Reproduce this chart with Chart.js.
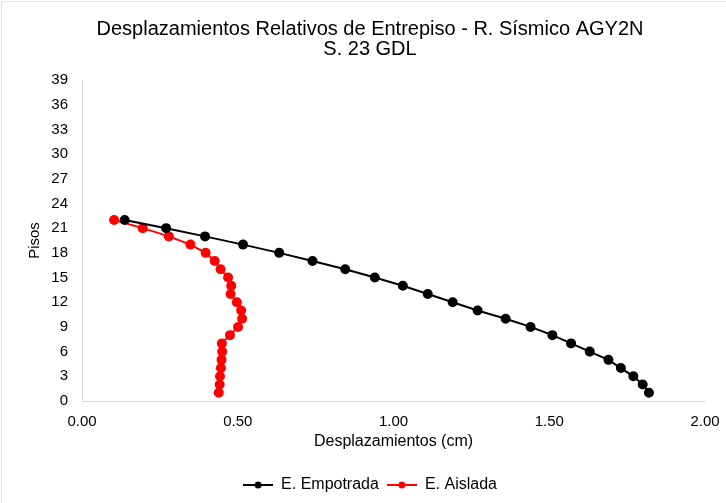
<!DOCTYPE html>
<html>
<head>
<meta charset="utf-8">
<script src="https://cdn.jsdelivr.net/npm/chart.js@4.4.1/dist/chart.umd.min.js"></script>
<style>
  html, body { margin: 0; padding: 0; background: #fff; }
  #wrap { position: relative; width: 726px; height: 503px; }
  #frame { position: absolute; left: 1px; top: 1px; right: 0; bottom: 0; border: 1px solid #dfe3ea; border-right: none; border-bottom: none; pointer-events: none; }
  canvas { display: block; }
</style>
</head>
<body>
<div id="wrap"><canvas id="chart" width="726" height="503"></canvas><div id="frame"></div></div>
<script>
// Desplazamientos relativos de entrepiso por piso (cm)
const pisos = [1, 2, 3, 4, 5, 6, 7, 8, 9, 10, 11, 12, 13, 14, 15, 16, 17, 18, 19, 20, 21, 22];
const empotrada = [1.82, 1.80, 1.77, 1.73, 1.69, 1.63, 1.57, 1.51, 1.44, 1.36, 1.27, 1.19, 1.11, 1.03, 0.94, 0.845, 0.74, 0.633, 0.517, 0.395, 0.27, 0.137];
const aislada = [0.439, 0.442, 0.443, 0.446, 0.448, 0.45, 0.449, 0.475, 0.501, 0.514, 0.511, 0.497, 0.477, 0.479, 0.469, 0.445, 0.426, 0.397, 0.348, 0.279, 0.195, 0.103];
const yTicks = [0, 3, 6, 9, 12, 15, 18, 21, 24, 27, 30, 33, 36, 39];
const xTicks = [0, 0.5, 1, 1.5, 2];

const toPoints = (xs) => xs.map((x, i) => ({ x, y: pisos[i] }));

// icono de leyenda: linea con punto al centro (estilo Excel)
function legendIcon(color) {
  const c = document.createElement('canvas');
  c.width = 30; c.height = 10;
  const ctx = c.getContext('2d');
  ctx.strokeStyle = color; ctx.lineWidth = 2;
  ctx.beginPath(); ctx.moveTo(0, 5); ctx.lineTo(30, 5); ctx.stroke();
  ctx.fillStyle = color;
  ctx.beginPath(); ctx.arc(15, 5, 3.5, 0, Math.PI * 2); ctx.fill();
  return c;
}

const FONT = 'Liberation Sans, Arial, sans-serif';

new Chart(document.getElementById('chart'), {
  type: 'scatter',
  data: {
    datasets: [
      { label: 'E. Empotrada', data: toPoints(empotrada), showLine: true, borderColor: '#000', backgroundColor: '#000',
        borderWidth: 2, pointRadius: 4, pointHoverRadius: 4, pointStyle: 'circle', legendIcon: legendIcon('#000') },
      { label: 'E. Aislada', data: toPoints(aislada), showLine: true, borderColor: '#ff0000', backgroundColor: '#ff0000',
        borderWidth: 2, pointRadius: 4, pointHoverRadius: 4, pointStyle: 'circle', legendIcon: legendIcon('#ff0000') }
    ]
  },
  options: {
    responsive: false,
    animation: false,
    layout: { padding: { left: 35, right: 21, top: 0, bottom: 0 } },
    plugins: {
      title: {
        display: true,
        text: ['Desplazamientos Relativos de Entrepiso - R. Sísmico AGY2N', 'S. 23 GDL'],
        color: '#000',
        font: { family: FONT, size: 20, weight: 'normal', lineHeight: 1.0 },
        padding: { top: 19, bottom: 21 }
      },
      legend: {
        position: 'bottom',
        labels: {
          color: '#000',
          font: { family: FONT, size: 16 },
          usePointStyle: true,
          pointStyleWidth: 30,
          padding: 8,
          generateLabels: (chart) => chart.data.datasets.map((ds, i) => ({
            text: ds.label, pointStyle: ds.legendIcon, fontColor: '#000',
            strokeStyle: ds.borderColor, fillStyle: ds.backgroundColor, datasetIndex: i, hidden: false
          }))
        }
      },
      tooltip: { enabled: false }
    },
    scales: {
      x: {
        type: 'linear', min: 0, max: 2,
        afterBuildTicks: (s) => { s.ticks = xTicks.map(v => ({ value: v })); },
        afterFit: (s) => { s.height = 68; s.paddingLeft = 0; s.paddingRight = 0; },
        ticks: { color: '#000', font: { family: FONT, size: 15 }, padding: 12, callback: (v) => v.toFixed(2) },
        grid: { display: false, drawTicks: false },
        border: { display: true, color: '#d6dde8', width: 1 },
        title: { display: true, text: 'Desplazamientos (cm)', color: '#000', font: { family: FONT, size: 16 }, padding: { top: 0, bottom: 18 } }
      },
      y: {
        type: 'linear', min: 0, max: 39,
        afterBuildTicks: (s) => { s.ticks = yTicks.map(v => ({ value: v })); },
        afterFit: (s) => { s.width = 47; },
        ticks: { color: '#000', font: { family: FONT, size: 15 }, padding: 14 },
        grid: { display: false, drawTicks: false },
        border: { display: true, color: '#d6dde8', width: 1 },
        title: { display: true, text: 'Pisos', color: '#000', font: { family: FONT, size: 15 }, padding: { top: -9, bottom: 0 } }
      }
    }
  }
});
</script>
</body>
</html>
